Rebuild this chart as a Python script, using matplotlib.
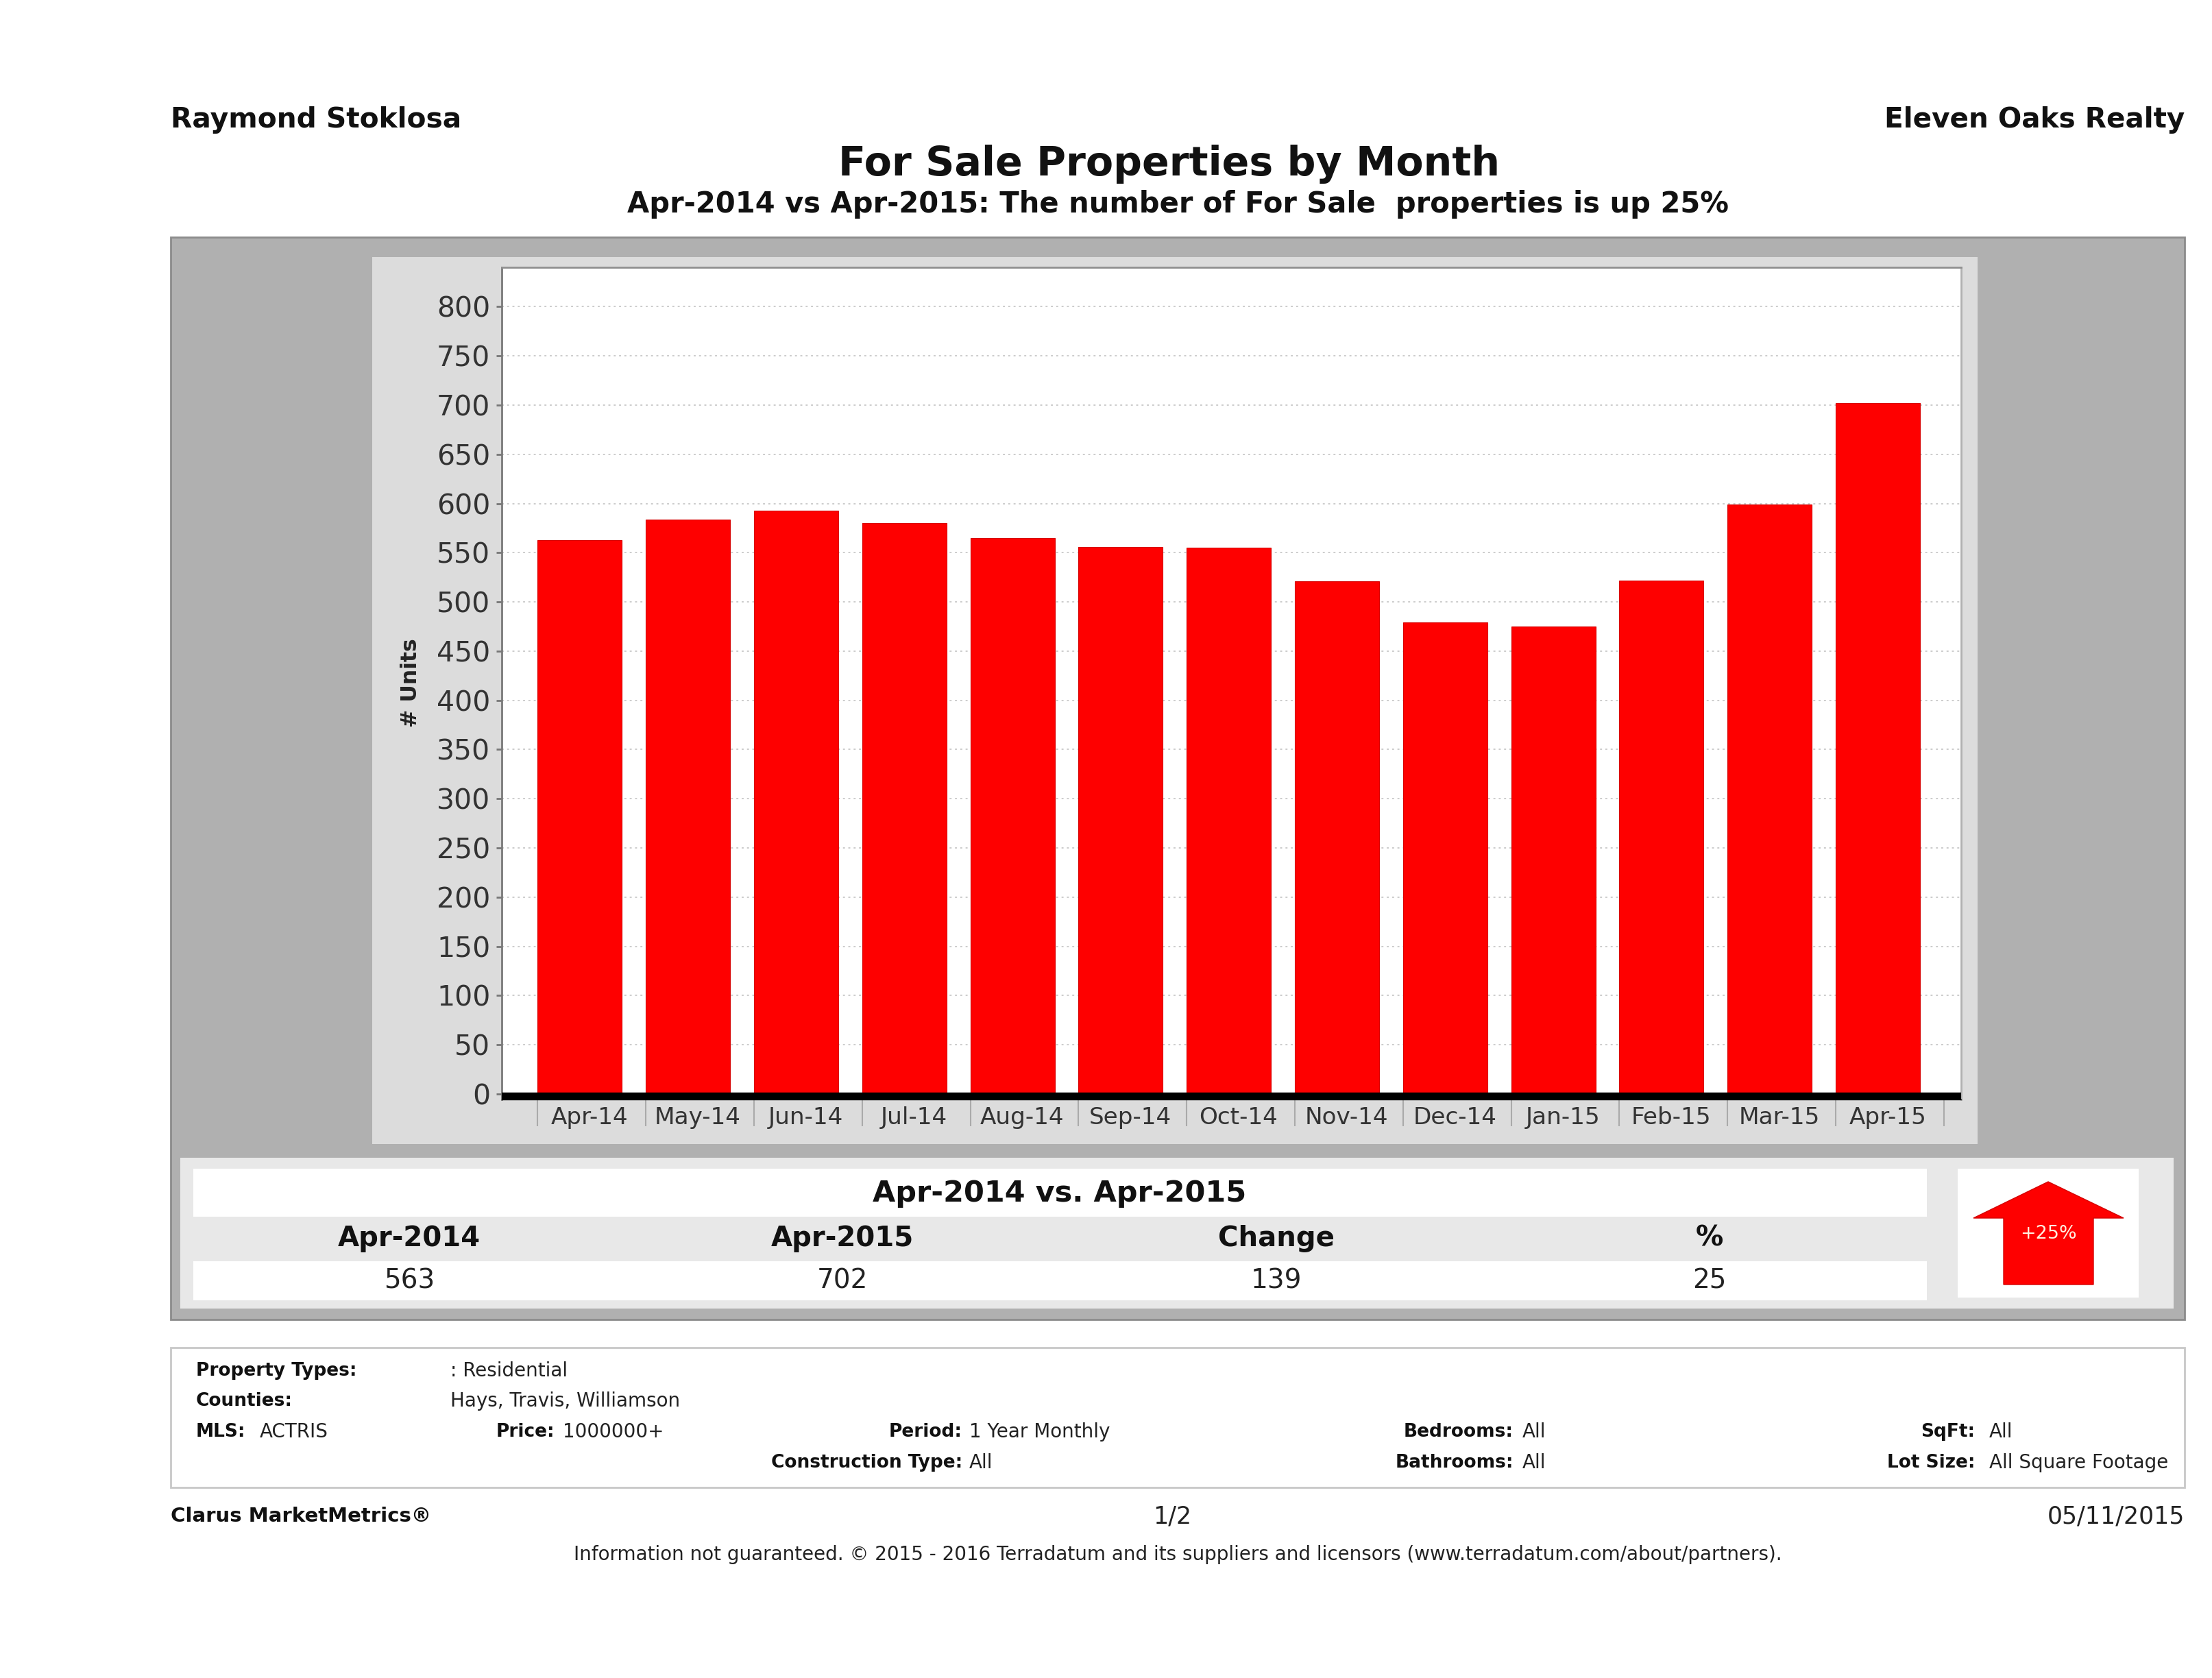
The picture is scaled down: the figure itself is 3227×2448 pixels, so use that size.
#!/usr/bin/env python3
import numpy as np
import matplotlib
matplotlib.use("Agg")
import matplotlib.pyplot as plt
from matplotlib.patches import Polygon, Rectangle

W, H = 3227, 2448

months = ["Apr-14", "May-14", "Jun-14", "Jul-14", "Aug-14", "Sep-14", "Oct-14",
          "Nov-14", "Dec-14", "Jan-15", "Feb-15", "Mar-15", "Apr-15"]
units = [563, 584, 593, 580, 565, 556, 555, 521, 479, 475, 522, 599, 702]
y_ticks = list(range(0, 801, 50))

stat_headers = ["Apr-2014", "Apr-2015", "Change", "%"]
stat_values = ["563", "702", "139", "25"]

plt.rcParams["font.family"] = ["DejaVu Sans"]

fig = plt.figure(figsize=(W / 100, H / 100), dpi=100, facecolor="white")

# page layer, in image pixels
page = fig.add_axes([0, 0, 1, 1])
page.set_xlim(0, W)
page.set_ylim(H, 0)
page.axis("off")


def box(x0, y0, x1, y1, color, edge="none", lw=0):
    page.add_patch(Rectangle((x0, y0), x1 - x0, y1 - y0, facecolor=color, edgecolor=edge, linewidth=lw))


def label(x, y, s, size, ha="left", weight="normal", color="black", rotation=0):
    page.text(x, y, s, fontsize=size, ha=ha, va="center", fontweight=weight, color=color, rotation=rotation)


label(249, 175, "Raymond Stoklosa", 29.3, weight="bold", color="#111111")
label(3187, 175, "Eleven Oaks Realty", 29.2, ha="right", weight="bold", color="#111111")
label(1706, 239, "For Sale Properties by Month", 42.2, ha="center", weight="bold", color="#111111")
label(1718, 298, "Apr-2014 vs Apr-2015: The number of For Sale  properties is up 25%", 30, ha="center",
      weight="bold", color="#111111")

box(249, 346, 3187, 1925, "#b0b0b0", "#8c8c8c", 2)
box(543, 375, 2885, 1669, "#dcdcdc")
box(263, 1689, 3171, 1909, "#e8e8e8")
box(282, 1705, 2811, 1775, "white")
box(282, 1840, 2811, 1897, "white")
box(2856, 1705, 3120, 1893, "white")

label(1546, 1741, "Apr-2014 vs. Apr-2015", 31, ha="center", weight="bold", color="#111111")
for cx, head, val in zip([597, 1229, 1862, 2494], stat_headers, stat_values):
    label(cx, 1807, head, 29, ha="center", weight="bold", color="#111111")
    label(cx, 1869, val, 28, ha="center", color="#222222")

page.add_patch(Polygon([(2988, 1724), (3098, 1777), (3054, 1777), (3054, 1874), (2923, 1874), (2923, 1777), (2879, 1777)],
                       closed=True, facecolor="#fe0000", edgecolor="#d40000", linewidth=1))
label(2988, 1800, "+25%", 19.4, ha="center", color="#fff0e0")

label(599, 996, "# Units", 22.7, ha="center", weight="bold", rotation=90, color="#222222")

# filter box
box(249, 1966, 3187, 2170, "white", "#c8c8c8", 2)
bold_rows = [(286, 2000, "Property Types:", "left"), (286, 2044, "Counties:", "left"), (286, 2089, "MLS:", "left"),
             (809, 2089, "Price:", "right"), (1404, 2089, "Period:", "right"), (2208, 2089, "Bedrooms:", "right"),
             (2881, 2089, "SqFt:", "right"), (1404, 2134, "Construction Type:", "right"),
             (2208, 2134, "Bathrooms:", "right"), (2881, 2134, "Lot Size:", "right")]
plain_rows = [(657, 2000, ": Residential"), (657, 2044, "Hays, Travis, Williamson"), (379, 2089, "ACTRIS"),
              (821, 2089, "1000000+"), (1414, 2089, "1 Year Monthly"), (2221, 2089, "All"), (2902, 2089, "All"),
              (1414, 2134, "All"), (2221, 2134, "All"), (2902, 2134, "All Square Footage")]
for x, y, s, ha in bold_rows:
    label(x, y, s, 19, ha=ha, weight="bold", color="#111111")
for x, y, s in plain_rows:
    label(x, y, s, 20, color="#222222")

label(249, 2212, "Clarus MarketMetrics®", 21, weight="bold", color="#111111")
label(1710, 2212, "1/2", 25, ha="center", color="#222222")
label(3187, 2212, "05/11/2015", 25, ha="right", color="#222222")
label(1718, 2268, "Information not guaranteed. © 2015 - 2016 Terradatum and its suppliers and licensors "
      "(www.terradatum.com/about/partners).", 20, ha="center", color="#222222")

# bar chart
left, right, top, bottom = 732, 2861, 390, 1604
ax = fig.add_axes([left / W, 1 - bottom / H, (right - left) / W, (bottom - top) / H], facecolor="white")
x = np.arange(len(months))
ax.bar(x, units, width=0.78, color="#fe0000", edgecolor="#d80000", linewidth=0.8, zorder=3)
ax.set_xlim(-0.722, 12.77)
ax.set_ylim(-5.6, 840)
ax.axhspan(-5.6, 1.5, color="black", zorder=4)

ax.set_yticks(y_ticks)
ax.tick_params(axis="y", labelsize=29.5, length=6, width=2, color="#777777", labelcolor="#333333", pad=6)
ax.grid(axis="y", color="#cccccc", linestyle=(0, (1.5, 2.5)), linewidth=1.4, zorder=1)

# separators sit at the bar's left edge, the month names are shifted right of the bar
ax.set_xticks(np.arange(len(months) + 1) - 0.39, labels=[])
ax.tick_params(axis="x", which="major", length=28, width=1.5, color="#aaaaaa")
ax.set_xticks(x + 0.09, labels=months, minor=True)
ax.tick_params(axis="x", which="minor", length=0, labelsize=24.7, labelcolor="#333333", pad=7)

for side, col, lw in [("left", "#7a7a7a", 2), ("top", "#909090", 2), ("right", "#b0b0b0", 2), ("bottom", "black", 1)]:
    ax.spines[side].set_color(col)
    ax.spines[side].set_linewidth(lw)

fig.savefig("out.png", dpi=100)
